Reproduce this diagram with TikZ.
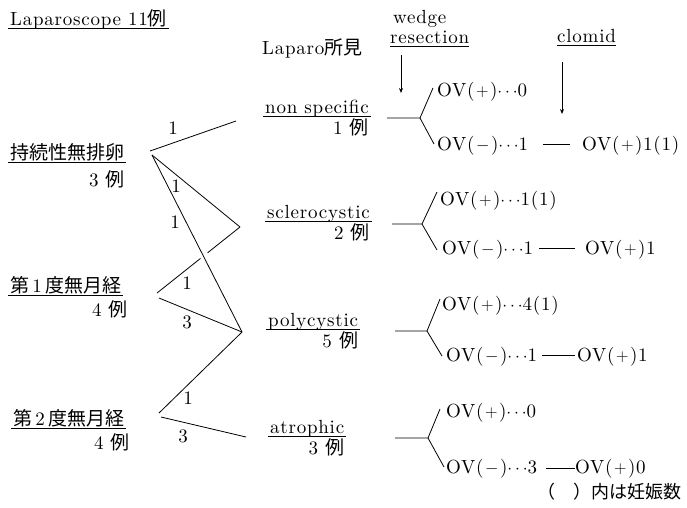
\documentclass[tikz,border=0pt]{standalone}
\usepackage{fontspec}
\setmainfont{lmroman10-regular.otf}
\newfontfamily\jp{Noto Sans CJK JP}
\usetikzlibrary{arrows.meta,calc}
\newcommand{\J}[1]{{\jp #1}}
\newcommand{\OVp}{OV(\kern1.5pt$+$\kern1.5pt)}
\newcommand{\OVm}{OV(\kern1.5pt$-$\kern1.5pt)}
\newcommand{\dd}{$\cdots$}
\begin{document}
\begin{tikzpicture}[x=1pt,y=-1pt,
  every node/.style={font=\fontsize{19}{22}\selectfont\addfontfeatures{LetterSpace=4}, inner sep=0pt},
  tx/.style={anchor=base west, text height=0.75em, text depth=0.3em},
  txr/.style={anchor=base east, text height=0.75em, text depth=0.3em},
  num/.style={anchor=center},
  ln/.style={line width=0.8pt},
  arr/.style={line width=0.8pt, -{Stealth[length=5pt,width=4pt]}}]
\useasboundingbox (0,0) rectangle (687,507);

% headings
\node[tx] (title) at (10,25) {Laparoscope 11\J{例}};
\draw[ln] ([xshift=-2]title.south west) -- ([xshift=2]title.south east);
\node[tx] (lf) at (262,54) {Laparo\J{所見}};
\node[tx] (wd) at (393,23) {wedge};
\node[tx] (rs) at (390,43) {resection};
\draw[ln] (rs.south west) -- (rs.south east);
\node[tx] (cl) at (557,42) {clomid};
\draw[ln] (cl.south west) -- (cl.south east);
\coordinate (wa1) at (401,55); \coordinate (wa2) at (401,93);
\draw[arr] (wa1) -- (wa2);
\coordinate (ca1) at (562,62); \coordinate (ca2) at (562,114);
\draw[arr] (ca1) -- (ca2);

% left groups
\node[tx] (g1) at (10,159) {\J{持続性無排卵}};
\node[txr] (g1n) at (125,186) {3 \J{例}};
\draw[ln] ([xshift=-2]g1.south west) -- ([xshift=2]g1.south east);
\node[tx] (g2) at (10,292) {\J{第}\,1\,\J{度無月経}};
\node[txr] (g2n) at (128,316) {4 \J{例}};
\draw[ln] ([xshift=-2]g2.south west) -- ([xshift=2]g2.south east);
\node[tx] (g3) at (13,425) {\J{第}\,2\,\J{度無月経}};
\node[txr] (g3n) at (130,449) {4 \J{例}};
\draw[ln] ([xshift=-2]g3.south west) -- ([xshift=2]g3.south east);

% categories
\node[tx] (c1) at (265,113) {non specific};
\node[txr] (c1n) at ($(c1.south east)+(0,18)$) {1 \J{例}};
\draw[ln] ([xshift=-2]c1.south west) -- ([xshift=2]c1.south east);
\node[tx] (c2) at (267,218.5) {sclerocystic};
\node[txr] (c2n) at ($(c2.south east)+(0,18)$) {2 \J{例}};
\draw[ln] ([xshift=-2]c2.south west) -- ([xshift=2]c2.south east);
\node[tx] (c3) at (268,326) {polycystic};
\node[txr] (c3n) at ($(c3.south east)+(0,18)$) {5 \J{例}};
\draw[ln] ([xshift=-2]c3.south west) -- ([xshift=2]c3.south east);
\node[tx] (c4) at (270,433) {atrophic};
\node[txr] (c4n) at ($(c4.south east)+(0,18)$) {3 \J{例}};
\draw[ln] ([xshift=-2]c4.south west) -- ([xshift=2]c4.south east);

% left connectors
\coordinate (s1a) at (150,151); \coordinate (s1b) at (152,155);
\coordinate (s2a) at (157,293); \coordinate (s2b) at (159,298);
\coordinate (s3a) at (159,413); \coordinate (s3b) at (161,417);
\coordinate (t1) at (236,121); \coordinate (t2) at (240,227);
\coordinate (t3) at (242,332); \coordinate (t4) at (246,437);
\draw[ln] (s1a) -- (t1);
\draw[ln] (s1b) -- (t2);
\draw[ln] (s1b) -- (t3);
\draw[ln] (s2a) -- ($(s2a)!0.524!(t2)$);
\draw[ln] ($(s2a)!0.61!(t2)$) -- (t2);
\draw[ln] (s2b) -- (t3);
\draw[ln] (s3a) -- (t3);
\draw[ln] (s3b) -- (t4);
\node[num] (n1) at (173,128) {1};
\node[num] (n2) at (176,186) {1};
\node[num] (n3) at (175,222) {1};
\node[num] (n4) at (187,283) {1};
\node[num] (n5) at (187,322) {3};
\node[num] (n6) at (188,398) {1};
\node[num] (n7) at (183,436) {3};

% forks
\coordinate (h1a) at (387,118); \coordinate (h1b) at (420,118);
\coordinate (u1) at (433,88); \coordinate (d1) at (434,144);
\coordinate (h2a) at (392,224); \coordinate (h2b) at (422,224);
\coordinate (u2) at (437,192); \coordinate (d2) at (437,250);
\coordinate (h3a) at (395,331); \coordinate (h3b) at (427,331);
\coordinate (u3) at (440,299); \coordinate (d3) at (442,356);
\coordinate (h4a) at (395,438); \coordinate (h4b) at (428,438);
\coordinate (u4) at (440,409); \coordinate (d4) at (444,467);
\foreach \i in {1,2,3,4}{
  \draw[ln] (h\i a) -- (h\i b) -- (u\i);
  \draw[ln] (h\i b) -- (d\i);
}

% outcomes
\node[tx] (o1u) at (437,96) {\OVp\dd0};
\node[tx] (o1d) at (437,150) {\OVm\dd1};
\node[tx] (p1) at (582,150) {\OVp1(1)};
\coordinate (k1a) at (543,144); \coordinate (k1b) at (570,144);
\draw[ln] (k1a) -- (k1b);

\node[tx] (o2u) at (440,205) {\OVp\dd1(1)};
\node[tx] (o2d) at (442,254) {\OVm\dd1};
\node[tx] (p2) at (585,254) {\OVp1};
\coordinate (k2a) at (539,248); \coordinate (k2b) at (575,248);
\draw[ln] (k2a) -- (k2b);

\node[tx] (o3u) at (442,310) {\OVp\dd4(1)};
\node[tx] (o3d) at (446,361) {\OVm\dd1};
\node[tx] (p3) at (577,361) {\OVp1};
\coordinate (k3a) at (542,355); \coordinate (k3b) at (575,355);
\draw[ln] (k3a) -- (k3b);

\node[tx] (o4u) at (446,417) {\OVp\dd0};
\node[tx] (o4d) at (446,473) {\OVm\dd3};
\node[tx] (p4) at (575,473) {\OVp0};
\coordinate (k4a) at (546,468); \coordinate (k4b) at (575,468);
\draw[ln] (k4a) -- (k4b);

\node[anchor=base west, font=\fontsize{18}{20}\selectfont\jp] (fn) at (537,498) {（　）内は妊娠数};
\end{tikzpicture}
\end{document}
